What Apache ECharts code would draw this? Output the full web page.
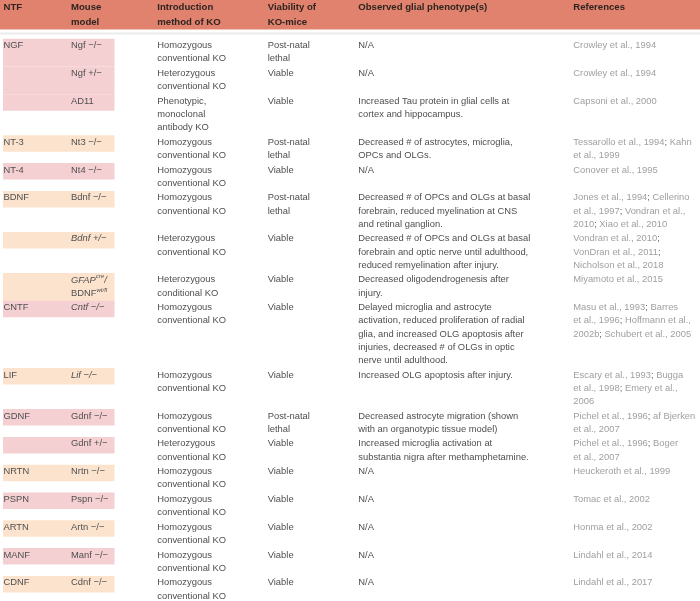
<!DOCTYPE html>
<html>
<head>
<meta charset="utf-8">
<script src="https://cdn.jsdelivr.net/npm/echarts@6/dist/echarts.min.js"></script>
<style>html,body{margin:0;padding:0;background:#fff;}#c{width:700px;height:601px;}</style>
</head>
<body>
<div id="c"></div>
<script>
// ---------- DATA ----------
const headers = ['NTF', 'Mouse\nmodel', 'Introduction\nmethod of KO', 'Viability of\nKO-mice', 'Observed glial phenotype(s)', 'References'];

const ntf = ['NGF', '', '', 'NT-3', 'NT-4', 'BDNF', '', '', 'CNTF', 'LIF', 'GDNF', '', 'NRTN', 'PSPN', 'ARTN', 'MANF', 'CDNF'];

const mouseModels = [
  'Ngf −/−', 'Ngf +/−', 'AD11', 'Nt3 −/−', 'Nt4 −/−', 'Bdnf −/−',
  '{i|Bdnf +/−}',
  '{i|GFAP}{sup|cre}{i|/}\n{n|BDNF}{sup|wt/fl}',
  '{i|Cntf −/−}', '{i|Lif −/−}',
  'Gdnf −/−', 'Gdnf +/−', 'Nrtn −/−', 'Pspn −/−', 'Artn −/−', 'Manf −/−', 'Cdnf −/−'
];

const methods = [
  'Homozygous\nconventional KO', 'Heterozygous\nconventional KO', 'Phenotypic,\nmonoclonal\nantibody KO',
  'Homozygous\nconventional KO', 'Homozygous\nconventional KO', 'Homozygous\nconventional KO',
  'Heterozygous\nconventional KO', 'Heterozygous\nconditional KO', 'Homozygous\nconventional KO',
  'Homozygous\nconventional KO', 'Homozygous\nconventional KO', 'Heterozygous\nconventional KO',
  'Homozygous\nconventional KO', 'Homozygous\nconventional KO', 'Homozygous\nconventional KO',
  'Homozygous\nconventional KO', 'Homozygous\nconventional KO'
];

const viability = [
  'Post-natal\nlethal', 'Viable', 'Viable', 'Post-natal\nlethal', 'Viable', 'Post-natal\nlethal',
  'Viable', 'Viable', 'Viable', 'Viable', 'Post-natal\nlethal', 'Viable',
  'Viable', 'Viable', 'Viable', 'Viable', 'Viable'
];

const phenotypes = [
  'N/A',
  'N/A',
  'Increased Tau protein in glial cells at\ncortex and hippocampus.',
  'Decreased # of astrocytes, microglia,\nOPCs and OLGs.',
  'N/A',
  'Decreased # of OPCs and OLGs at basal\nforebrain, reduced myelination at CNS\nand retinal ganglion.',
  'Decreased # of OPCs and OLGs at basal\nforebrain and optic nerve until adulthood,\nreduced remyelination after injury.',
  'Decreased oligodendrogenesis after\ninjury.',
  'Delayed microglia and astrocyte\nactivation, reduced proliferation of radial\nglia, and increased OLG apoptosis after\ninjuries, decreased # of OLGs in optic\nnerve until adulthood.',
  'Increased OLG apoptosis after injury.',
  'Decreased astrocyte migration (shown\nwith an organotypic tissue model)',
  'Increased microglia activation at\nsubstantia nigra after methamphetamine.',
  'N/A', 'N/A', 'N/A', 'N/A', 'N/A'
];

const references = [
  'Crowley et al., 1994',
  'Crowley et al., 1994',
  'Capsoni et al., 2000',
  'Tessarollo et al., 1994; Kahn\net al., 1999',
  'Conover et al., 1995',
  'Jones et al., 1994; Cellerino\net al., 1997; Vondran et al.,\n2010; Xiao et al., 2010',
  'Vondran et al., 2010;\nVonDran et al., 2011;\nNicholson et al., 2018',
  'Miyamoto et al., 2015',
  'Masu et al., 1993; Barres\net al., 1996; Hoffmann et al.,\n2002b; Schubert et al., 2005',
  'Escary et al., 1993; Bugga\net al., 1998; Emery et al.,\n2006',
  'Pichel et al., 1996; af Bjerken\net al., 2007',
  'Pichel et al., 1996; Boger\net al., 2007',
  'Heuckeroth et al., 1999',
  'Tomac et al., 2002',
  'Honma et al., 2002',
  'Lindahl et al., 2014',
  'Lindahl et al., 2017'
];

// NTF group each row belongs to (for alternating shading) and merged shading within a group
const groupIndex = [0, 0, 0, 1, 2, 3, 3, 3, 4, 5, 6, 6, 7, 8, 9, 10, 11];
const mergedWithNext = [true, true, false, false, false, false, false, false, false, false, false, false, false, false, false, false, false];

// ---------- LAYOUT / STYLE ----------
const FONT = '"Liberation Sans", Arial, Helvetica, sans-serif';
const FS = 9.4;
const LH = 13.2;
const PAD = 1.4;
const FIRST = 45.6;
const colX = [3.5, 71, 157.3, 267.7, 358.3, 573.3];
const shadeColors = ['#f5d0d3', '#fce3cd'];
const textColor = '#4f4f4f';
const refColor = '#a0a0a0';
const headColor = '#e0826e';

const nLines = s => s.split('\n').length;
const rowLines = mouseModels.map((m, i) => Math.max(nLines(ntf[i] || ' '), nLines(m), nLines(methods[i]), nLines(viability[i]), nLines(phenotypes[i]), nLines(references[i])));
const rowTop = [FIRST - LH / 2];
for (let i = 0; i < rowLines.length; i++) rowTop.push(rowTop[i] + rowLines[i] * LH + PAD);

const rich = {
  i: { fontStyle: 'italic', fontSize: FS, fontFamily: FONT, fill: textColor, lineHeight: LH },
  n: { fontSize: FS, fontFamily: FONT, fill: textColor, lineHeight: LH },
  sup: { fontStyle: 'italic', fontSize: 6, fontFamily: FONT, fill: textColor, lineHeight: 7, verticalAlign: 'top' },
  semi: { fontSize: FS, fontFamily: FONT, fill: '#666', lineHeight: LH }
};

function txt(api, x, y, text, color, extra) {
  const p = api.coord([x, y]);
  return {
    type: 'text',
    x: p[0], y: p[1],
    style: Object.assign({
      text: text, fill: color, fontSize: FS, fontFamily: FONT,
      lineHeight: LH, align: 'left', verticalAlign: 'top', rich: rich
    }, extra || {})
  };
}

function renderRow(params, api) {
  const i = api.value(0);
  const top = rowTop[i];
  const children = [];
  const mmL = nLines(mouseModels[i]);
  const bTop = top - 0.3;
  let bBot = bTop + 16.5 + (mmL - 1) * (LH + 2);
  if (mergedWithNext[i]) bBot = rowTop[i + 1] - 0.3;
  const p0 = api.coord([3, bTop]);
  const p1 = api.coord([114.5, bBot]);
  children.push({
    type: 'rect',
    shape: { x: p0[0], y: p0[1], width: p1[0] - p0[0], height: p1[1] - p0[1] },
    style: { fill: shadeColors[groupIndex[i] % 2] }
  });
  if (ntf[i]) children.push(txt(api, colX[0], top, ntf[i], textColor));
  children.push(txt(api, colX[1], top + (mmL > 1 ? 0.5 : 0), mouseModels[i], textColor, mmL > 1 ? { lineHeight: LH + 1 } : null));
  children.push(txt(api, colX[2], top, methods[i], textColor));
  children.push(txt(api, colX[3], top, viability[i], textColor));
  children.push(txt(api, colX[4], top, phenotypes[i], textColor));
  children.push(txt(api, colX[5], top, references[i].replace(/;/g, '{semi|;}'), refColor));
  return { type: 'group', children: children };
}

function renderHeader(params, api) {
  const a = api.coord([0, 0]);
  const b = api.coord([700, 29.5]);
  const children = [{
    type: 'rect',
    shape: { x: a[0], y: a[1], width: b[0] - a[0], height: b[1] - a[1] },
    style: { fill: headColor }
  }];
  const l0 = api.coord([0, 33.5]);
  const l1 = api.coord([700, 33.5]);
  children.push({
    type: 'line',
    shape: { x1: l0[0], y1: l0[1], x2: l1[0], y2: l1[1] },
    style: { stroke: '#ebebeb', lineWidth: 2 }
  });
  headers.forEach((h, k) => {
    children.push(txt(api, colX[k], 0, h, '#2e2420', { fontWeight: 'bold', fontSize: 9.6, lineHeight: 15 }));
  });
  return { type: 'group', children: children };
}

const chart = echarts.init(document.getElementById('c'), null, { renderer: 'canvas' });
chart.setOption({
  animation: false,
  backgroundColor: '#ffffff',
  grid: { left: 0, right: 0, top: 0, bottom: 0 },
  xAxis: { type: 'value', min: 0, max: 700, show: false },
  yAxis: { type: 'value', min: 0, max: 601, inverse: true, show: false },
  series: [
    {
      type: 'custom', name: 'header', clip: false,
      data: [[0]],
      renderItem: renderHeader
    },
    {
      type: 'custom', name: 'rows', clip: false,
      data: ntf.map((_, i) => [i]),
      renderItem: renderRow
    }
  ]
});
</script>
</body>
</html>
